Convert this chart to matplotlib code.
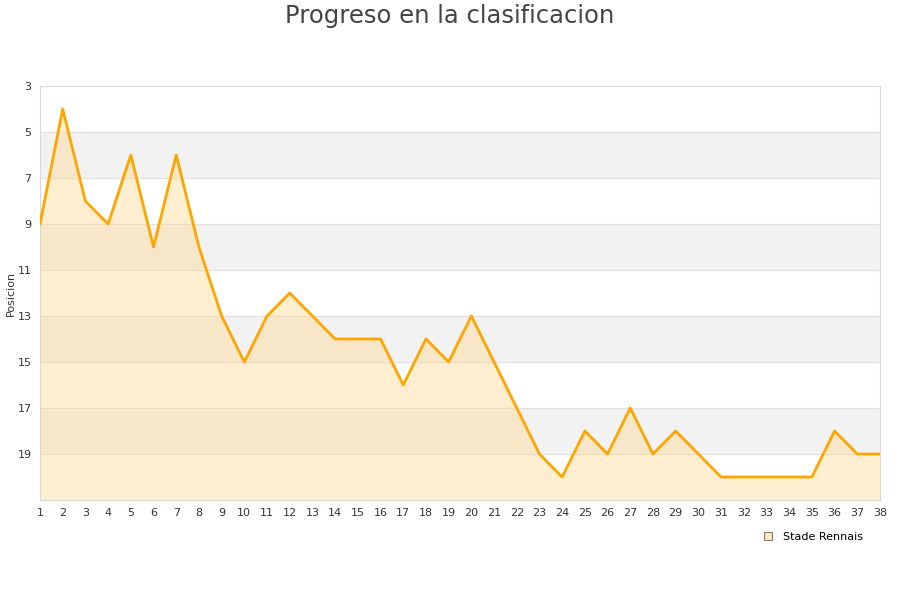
import numpy as np
import matplotlib.pyplot as plt
from matplotlib.lines import Line2D

jornadas = list(range(1, 39))
posicion = [9, 4, 8, 9, 6, 10, 6, 10, 13, 15, 13, 12, 13, 14, 14, 14, 16, 14, 15, 13,
            15, 17, 19, 20, 18, 19, 17, 19, 18, 19, 20, 20, 20, 20, 20, 18, 19, 19]
y_ticks = [3, 5, 7, 9, 11, 13, 15, 17, 19]
equipo = "Stade Rennais"

fig = plt.figure(figsize=(9, 6), dpi=100)
ax = fig.add_axes([40/900, 1 - 500/600, 840/900, 414/600])

# bandas alternas
for lo in range(5, 21, 4):
    ax.axhspan(lo, lo + 2, color='#f2f2f2', zorder=0)
for t in y_ticks[1:]:
    ax.axhline(t, color='#e0e0e0', lw=0.8, zorder=1)

ax.fill_between(jornadas, posicion, 21, color='#ffd88a', alpha=0.4, lw=0, zorder=2)
ax.plot(jornadas, posicion, color='#ffa500', lw=2.0, zorder=3)

ax.set_xlim(1, 38)
ax.set_ylim(21, 3)
ax.set_xticks(jornadas)
ax.set_yticks(y_ticks)
ax.tick_params(length=0, labelsize=8, colors='#333333', pad=6)
for s in ax.spines.values():
    s.set_color('#d8d8d8')

fig.text(11/900, 1 - 293/600, 'Posicion', rotation=90, ha='center', va='center',
         fontsize=8, color='#333333')

fig.text(0.5, 1 - 16/600, 'Progreso en la clasificacion', ha='center', va='center',
         fontsize=17.5, color='#444444')

h = Line2D([], [], marker='s', ls='none', markersize=6,
           markerfacecolor='#fde9c4', markeredgecolor='#8a7a60', markeredgewidth=0.8)
fig.legend([h], [equipo], loc='center', bbox_to_anchor=(810/900, 1 - 537/600),
           frameon=False, fontsize=8, handletextpad=0.3)

fig.savefig('out.png', dpi=100)
